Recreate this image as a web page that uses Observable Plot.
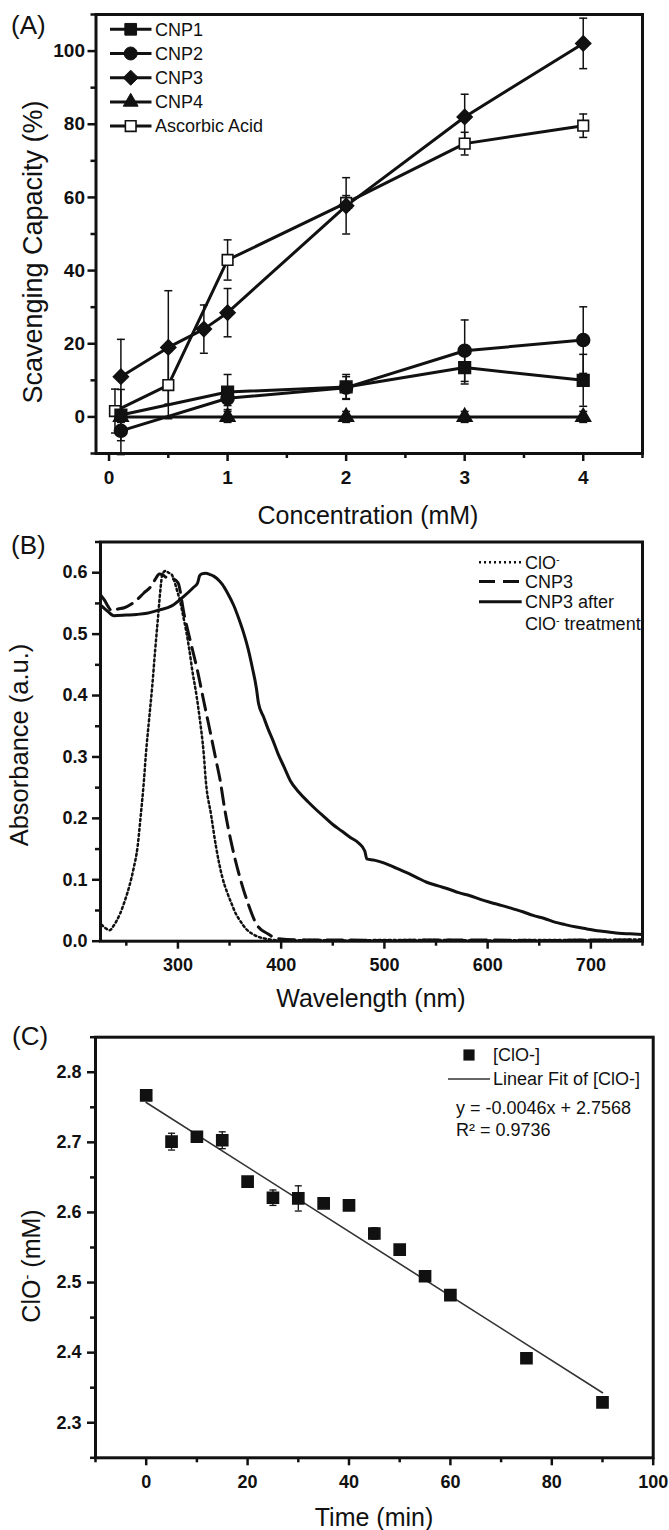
<!DOCTYPE html>
<html>
<head>
<meta charset="utf-8">
<script src="https://cdn.jsdelivr.net/npm/d3@7"></script>
<script src="https://cdn.jsdelivr.net/npm/@observablehq/plot@0.6"></script>
<style>
  html, body { margin: 0; padding: 0; background: #fff; }
  #page { position: relative; width: 669px; height: 1530px; overflow: hidden; background: #fff; }
  #page > svg { position: absolute; left: 0; }
</style>
</head>
<body>
<div id="page"></div>
<script>
// ---------------- Panel A data ----------------
const concX = [0.1, 1, 2, 3, 4];
const cnp1Y = [0.5, 6.8, 8.2, 13.5, 10.0];
const cnp1Err = [7, 4.8, 3.4, 4.5, 7.1];
const cnp2Y = [-3.8, 5.1, 8.0, 18.1, 21.0];
const cnp2Err = [6.5, 2, 3, 8.4, 9.1];
const cnp3X = [0.1, 0.5, 0.8, 1, 2, 3, 4];
const cnp3Y = [11, 19, 24, 28.5, 57.7, 82.0, 102.1];
const cnp3Err = [10.2, 15.5, 6.6, 6.6, 7.7, 6.2, 6.9];
const cnp4Y = [0, 0, 0, 0, 0];
const cnp4Err = [1.5, 1.5, 1.5, 1.5, 1.5];
const ascX = [0.05, 0.5, 1, 2, 3, 4];
const ascY = [1.6, 8.7, 42.9, 58.5, 74.7, 79.6];
const ascErr = [6, 9.2, 5.5, 2, 3.1, 3.2];
const aSeriesNames = ["CNP1", "CNP2", "CNP3", "CNP4", "Ascorbic Acid"];
const aXTicks = [0, 1, 2, 3, 4];
const aXMinor = [0.5, 1.5, 2.5, 3.5, 4.5];
const aYTicks = [0, 20, 40, 60, 80, 100];
const aYMinor = [-10, 10, 30, 50, 70, 90, 110];

// ---------------- Panel B data ----------------
const wlClO = [226, 230, 234, 238, 244, 249, 253, 257, 261, 264, 267, 269, 272, 275, 278, 281, 283, 285, 288, 291, 294, 296, 299, 302, 305, 308, 311, 314, 318, 321, 325, 327, 332, 337, 343, 348, 352, 356, 360, 366, 372, 378, 385, 392, 400, 430, 460, 500, 550, 600, 650, 700, 750];
const absClO = [0.027, 0.021, 0.018, 0.026, 0.045, 0.068, 0.09, 0.118, 0.155, 0.205, 0.26, 0.305, 0.36, 0.413, 0.475, 0.533, 0.572, 0.598, 0.603, 0.6, 0.597, 0.589, 0.572, 0.554, 0.53, 0.505, 0.475, 0.44, 0.4, 0.364, 0.305, 0.261, 0.207, 0.153, 0.104, 0.078, 0.061, 0.045, 0.034, 0.02, 0.012, 0.007, 0.004, 0.002, 0.001, 0.002, 0.001, 0.002, 0.002, 0.001, 0.002, 0.002, 0.003];
const wlCNP3 = [226, 229, 232, 236, 242, 248, 255, 261, 267, 273, 278, 282, 285, 288, 294, 300, 306, 312, 319, 325, 331, 337, 341, 345, 352, 360, 368, 376, 387, 397, 420, 460, 500, 550, 600, 650, 700, 750];
const absCNP3 = [0.562, 0.555, 0.546, 0.538, 0.541, 0.543, 0.549, 0.557, 0.567, 0.576, 0.589, 0.598, 0.597, 0.593, 0.591, 0.584, 0.532, 0.489, 0.44, 0.391, 0.343, 0.294, 0.261, 0.218, 0.158, 0.104, 0.061, 0.028, 0.012, 0.004, 0.002, 0.002, 0.001, 0.002, 0.002, 0.001, 0.002, 0.002];
const wlAfter = [226, 232, 238, 250, 260, 270, 281, 294, 306, 315, 319, 321, 323, 327, 331, 335, 340, 343, 348, 354, 359, 364, 368, 372, 376, 378, 383, 387, 392, 397, 403, 409, 417, 426, 434, 442, 450, 459, 467, 475, 481, 483, 490, 500, 510, 521, 531, 541, 552, 562, 572, 583, 593, 603, 614, 624, 634, 644, 655, 665, 675, 686, 696, 706, 717, 727, 738, 750];
const absAfter = [0.546, 0.537, 0.530, 0.531, 0.532, 0.534, 0.539, 0.546, 0.562, 0.576, 0.583, 0.595, 0.598, 0.599, 0.597, 0.594, 0.587, 0.581, 0.567, 0.547, 0.525, 0.500, 0.476, 0.446, 0.412, 0.388, 0.365, 0.347, 0.327, 0.305, 0.283, 0.261, 0.243, 0.227, 0.214, 0.202, 0.190, 0.179, 0.169, 0.160, 0.147, 0.134, 0.132, 0.127, 0.120, 0.112, 0.104, 0.096, 0.090, 0.085, 0.079, 0.074, 0.068, 0.063, 0.058, 0.053, 0.048, 0.042, 0.037, 0.031, 0.027, 0.023, 0.020, 0.017, 0.015, 0.013, 0.012, 0.011];
const bSeriesNames = ["ClO-", "CNP3", "CNP3 after ClO- treatment"];
const bXTicks = [300, 400, 500, 600, 700];
const bXMinor = [250, 350, 450, 550, 650, 750];
const bYTicks = [0, 0.1, 0.2, 0.3, 0.4, 0.5, 0.6];
const bYMinor = [0.05, 0.15, 0.25, 0.35, 0.45, 0.55, 0.65];

// ---------------- Panel C data ----------------
const timeMin = [0, 5, 10, 15, 20, 25, 30, 35, 40, 45, 50, 55, 60, 75, 90];
const cloMM = [2.767, 2.701, 2.708, 2.703, 2.644, 2.621, 2.620, 2.613, 2.610, 2.570, 2.547, 2.509, 2.482, 2.392, 2.329];
const cloErr = [0.006, 0.012, 0.004, 0.012, 0.004, 0.011, 0.018, 0.004, 0.004, 0.008, 0.004, 0.004, 0.004, 0.004, 0.004];
const fitTime = [0, 90];
const fitClO = [2.7568, 2.3428];
const cXTicks = [0, 20, 40, 60, 80, 100];
const cXMinor = [-10, 10, 30, 50, 70, 90];
const cYTicks = [2.3, 2.4, 2.5, 2.6, 2.7, 2.8];
const cYMinor = [2.25, 2.35, 2.45, 2.55, 2.65, 2.75, 2.85];

// ---------------- styling ----------------
const FONT = '"Liberation Sans", Arial, Helvetica, sans-serif';
const INK = "#111";
const capSym = { draw(ctx, size) { const w = Math.sqrt(size) / 2; ctx.moveTo(-w, 0); ctx.lineTo(w, 0); } };
const page = document.getElementById("page");

function axes(xT, xM, yT, yM, fmtX, fmtY, padY, fs) {
  return [
    Plot.axisX(xT, {tickSize: 8, tickPadding: 9, strokeWidth: 2.5, stroke: INK, fill: INK, fontSize: fs, fontWeight: "bold", label: null, tickFormat: fmtX}),
    Plot.axisX(xM, {tickSize: 5, strokeWidth: 2.5, stroke: INK, label: null, tickFormat: () => ""}),
    Plot.axisY(yT, {tickSize: 8, tickPadding: padY, strokeWidth: 2.5, stroke: INK, fill: INK, fontSize: fs, fontWeight: "bold", label: null, tickFormat: fmtY}),
    Plot.axisY(yM, {tickSize: 5, strokeWidth: 2.5, stroke: INK, label: null, tickFormat: () => ""})
  ];
}

// ---------------- Panel A ----------------
const aSeries = [
  {name: aSeriesNames[0], xs: concX, ys: cnp1Y, es: cnp1Err},
  {name: aSeriesNames[1], xs: concX, ys: cnp2Y, es: cnp2Err},
  {name: aSeriesNames[2], xs: cnp3X, ys: cnp3Y, es: cnp3Err},
  {name: aSeriesNames[3], xs: concX, ys: cnp4Y, es: cnp4Err},
  {name: aSeriesNames[4], xs: ascX, ys: ascY, es: ascErr}
];
const rowsA = aSeries.flatMap(s => s.xs.map((x, i) => ({series: s.name, x, y: s.ys[i], e: s.es[i]})));
const bySeries = n => rowsA.filter(d => d.series === n);

const plotA = Plot.plot({
  width: 669, height: 528,
  marginTop: 14, marginBottom: 75, marginLeft: 95.5, marginRight: 27,
  style: {fontFamily: FONT, background: "transparent", color: INK, overflow: "visible"},
  x: {domain: [-0.11, 4.5]},
  y: {domain: [-10, 110]},
  marks: [
    ...axes(aXTicks, aXMinor, aYTicks, aYMinor, d => String(d), d => String(d), 3, 19),
    Plot.line(rowsA, {x: "x", y: "y", z: "series", stroke: INK, strokeWidth: 3}),
    Plot.ruleX(rowsA, {x: "x", y1: d => d.y - d.e, y2: d => d.y + d.e, stroke: INK, strokeWidth: 1.5}),
    Plot.dot(rowsA, {x: "x", y: d => d.y + d.e, symbol: capSym, r: 4.5, stroke: INK, strokeWidth: 1.5, fill: "none"}),
    Plot.dot(rowsA, {x: "x", y: d => d.y - d.e, symbol: capSym, r: 4.5, stroke: INK, strokeWidth: 1.5, fill: "none"}),
    Plot.dot(bySeries("Ascorbic Acid"), {x: "x", y: "y", symbol: "square", r: 6, fill: "white", stroke: INK, strokeWidth: 1.6}),
    Plot.dot(bySeries("CNP4"), {x: "x", y: "y", symbol: "triangle", r: 5.5, fill: INK, stroke: INK}),
    Plot.dot(bySeries("CNP2"), {x: "x", y: "y", symbol: "circle", r: 6.5, fill: INK, stroke: INK}),
    Plot.dot(bySeries("CNP1"), {x: "x", y: "y", symbol: "square", r: 6.6, fill: INK, stroke: INK}),
    Plot.dot(bySeries("CNP3"), {x: "x", y: "y", symbol: "diamond2", r: 6.8, fill: INK, stroke: INK}),
    Plot.frame({stroke: INK, strokeWidth: 3})
  ]
});
plotA.style.top = "0px";
page.appendChild(plotA);

// ---------------- Panel B ----------------
const bSeries = [
  {name: bSeriesNames[0], xs: wlClO, ys: absClO},
  {name: bSeriesNames[1], xs: wlCNP3, ys: absCNP3},
  {name: bSeriesNames[2], xs: wlAfter, ys: absAfter}
];
const rowsB = bSeries.flatMap(s => s.xs.map((x, i) => ({series: s.name, x, y: s.ys[i]})));
const plotB = Plot.plot({
  width: 669, height: 492,
  marginTop: 13.5, marginBottom: 79.3, marginLeft: 100, marginRight: 27,
  style: {fontFamily: FONT, background: "transparent", color: INK, overflow: "visible"},
  x: {domain: [225, 750]},
  y: {domain: [0, 0.65]},
  marks: [
    ...axes(bXTicks, bXMinor, bYTicks, bYMinor, d => String(d), d3.format(".1f"), 5, 18),
    Plot.line(rowsB.filter(d => d.series === bSeriesNames[2]), {x: "x", y: "y", stroke: INK, strokeWidth: 3, curve: "monotone-x"}),
    Plot.line(rowsB.filter(d => d.series === bSeriesNames[1]), {x: "x", y: "y", stroke: INK, strokeWidth: 3, strokeDasharray: "16,8", curve: "monotone-x"}),
    Plot.line(rowsB.filter(d => d.series === bSeriesNames[0]), {x: "x", y: "y", stroke: INK, strokeWidth: 2.5, strokeDasharray: "2,3", curve: "monotone-x"}),
    Plot.frame({stroke: INK, strokeWidth: 3})
  ]
});
plotB.style.top = "528px";
page.appendChild(plotB);

// ---------------- Panel C ----------------
const rowsC = timeMin.map((t, i) => ({x: t, y: cloMM[i], e: cloErr[i]}));
const rowsFit = fitTime.map((t, i) => ({x: t, y: fitClO[i]}));
const plotC = Plot.plot({
  width: 669, height: 510,
  marginTop: 16.7, marginBottom: 72.7, marginLeft: 95, marginRight: 16.3,
  style: {fontFamily: FONT, background: "transparent", color: INK, overflow: "visible"},
  x: {domain: [-10, 100]},
  y: {domain: [2.25, 2.85]},
  marks: [
    ...axes(cXTicks, cXMinor, cYTicks, cYMinor, d => String(d), d3.format(".1f"), 6, 18),
    Plot.line(rowsFit, {x: "x", y: "y", stroke: "#333", strokeWidth: 1.6}),
    Plot.ruleX(rowsC, {x: "x", y1: d => d.y - d.e, y2: d => d.y + d.e, stroke: INK, strokeWidth: 1.3}),
    Plot.dot(rowsC, {x: "x", y: d => d.y + d.e, symbol: capSym, r: 4, stroke: INK, strokeWidth: 1.3, fill: "none"}),
    Plot.dot(rowsC, {x: "x", y: d => d.y - d.e, symbol: capSym, r: 4, stroke: INK, strokeWidth: 1.3, fill: "none"}),
    Plot.dot(rowsC, {x: "x", y: "y", symbol: "square", r: 6.3, fill: INK, stroke: INK}),
    Plot.frame({stroke: INK, strokeWidth: 3})
  ]
});
plotC.style.top = "1020px";
page.appendChild(plotC);

// ---------------- overlay: panel labels, axis titles, legends ----------------
const ov = d3.select(page).append("svg")
  .attr("width", 669).attr("height", 1530)
  .style("top", "0px").style("pointer-events", "none")
  .style("font-family", FONT).attr("fill", INK);

function txt(x, y, s, size, opts = {}) {
  const t = ov.append("text").attr("x", x).attr("y", y).attr("font-size", size)
    .attr("dy", "0.35em").attr("text-anchor", opts.anchor || "start");
  if (opts.rotate) t.attr("transform", `rotate(-90 ${x} ${y})`);
  return t.text(s);
}
function supMinus(t) {
  t.append("tspan").attr("font-size", "60%").attr("baseline-shift", "super").text("-");
}

// panel labels
txt(11, 25, "(A)", 26);
txt(11, 545, "(B)", 26);
txt(12, 1036, "(C)", 26);

// axis titles
txt(368, 515, "Concentration (mM)", 25, {anchor: "middle"});
txt(33, 252, "Scavenging Capacity (%)", 27, {anchor: "middle", rotate: true});
txt(371, 998, "Wavelength (nm)", 25, {anchor: "middle"});
txt(19, 745, "Absorbance (a.u.)", 25.5, {anchor: "middle", rotate: true});
txt(374, 1517, "Time (min)", 25, {anchor: "middle"});
{
  const t = ov.append("text").attr("x", 31).attr("y", 1266).attr("font-size", 25)
    .attr("dy", "0.35em").attr("text-anchor", "middle")
    .attr("transform", "rotate(-90 31 1266)");
  t.append("tspan").text("ClO");
  supMinus(t);
  t.append("tspan").text(" (mM)");
}

// legend A
const legA = [
  {name: aSeriesNames[0], sym: d3.symbolSquare, r: 6.6, fill: INK},
  {name: aSeriesNames[1], sym: d3.symbolCircle, r: 6.5, fill: INK},
  {name: aSeriesNames[2], sym: d3.symbolDiamond2, r: 6.8, fill: INK},
  {name: aSeriesNames[3], sym: d3.symbolTriangle, r: 5.5, fill: INK},
  {name: aSeriesNames[4], sym: d3.symbolSquare, r: 6, fill: "white"}
];
legA.forEach((d, i) => {
  const y = 29.3 + i * 24.2;
  ov.append("line").attr("x1", 110).attr("x2", 151.5).attr("y1", y).attr("y2", y)
    .attr("stroke", INK).attr("stroke-width", 3);
  ov.append("path").attr("transform", `translate(130.7,${y})`)
    .attr("d", d3.symbol(d.sym, Math.PI * d.r * d.r)())
    .attr("fill", d.fill).attr("stroke", INK).attr("stroke-width", d.fill === "white" ? 1.6 : 1);
  txt(155, y, d.name, 18);
});

// legend B
[
  {y: 562.3, dash: "2,3", w: 2.5},
  {y: 581.5, dash: "16,8", w: 3},
  {y: 601.7, dash: null, w: 3}
].forEach(d => {
  const l = ov.append("line").attr("x1", 479).attr("x2", 521.7).attr("y1", d.y).attr("y2", d.y)
    .attr("stroke", INK).attr("stroke-width", d.w);
  if (d.dash) l.attr("stroke-dasharray", d.dash);
});
{
  const t1 = txt(525, 562.3, "", 18); t1.append("tspan").text("ClO"); supMinus(t1);
  txt(525, 581.5, "CNP3", 18);
  txt(525, 601.7, "CNP3 after", 18);
  const t4 = txt(525, 623.5, "", 18); t4.append("tspan").text("ClO"); supMinus(t4); t4.append("tspan").text(" treatment");
}

// legend C
ov.append("path").attr("transform", "translate(469,1055)")
  .attr("d", d3.symbol(d3.symbolSquare, Math.PI * 6.3 * 6.3)()).attr("fill", INK);
txt(493, 1055, "[ClO-]", 18);
ov.append("line").attr("x1", 448).attr("x2", 490).attr("y1", 1079).attr("y2", 1079)
  .attr("stroke", "#333").attr("stroke-width", 1.6);
txt(493, 1079, "Linear Fit of [ClO-]", 18);
txt(456, 1108, "y = -0.0046x + 2.7568", 18);
txt(456, 1129.5, "R² = 0.9736", 18);
</script>
</body>
</html>
